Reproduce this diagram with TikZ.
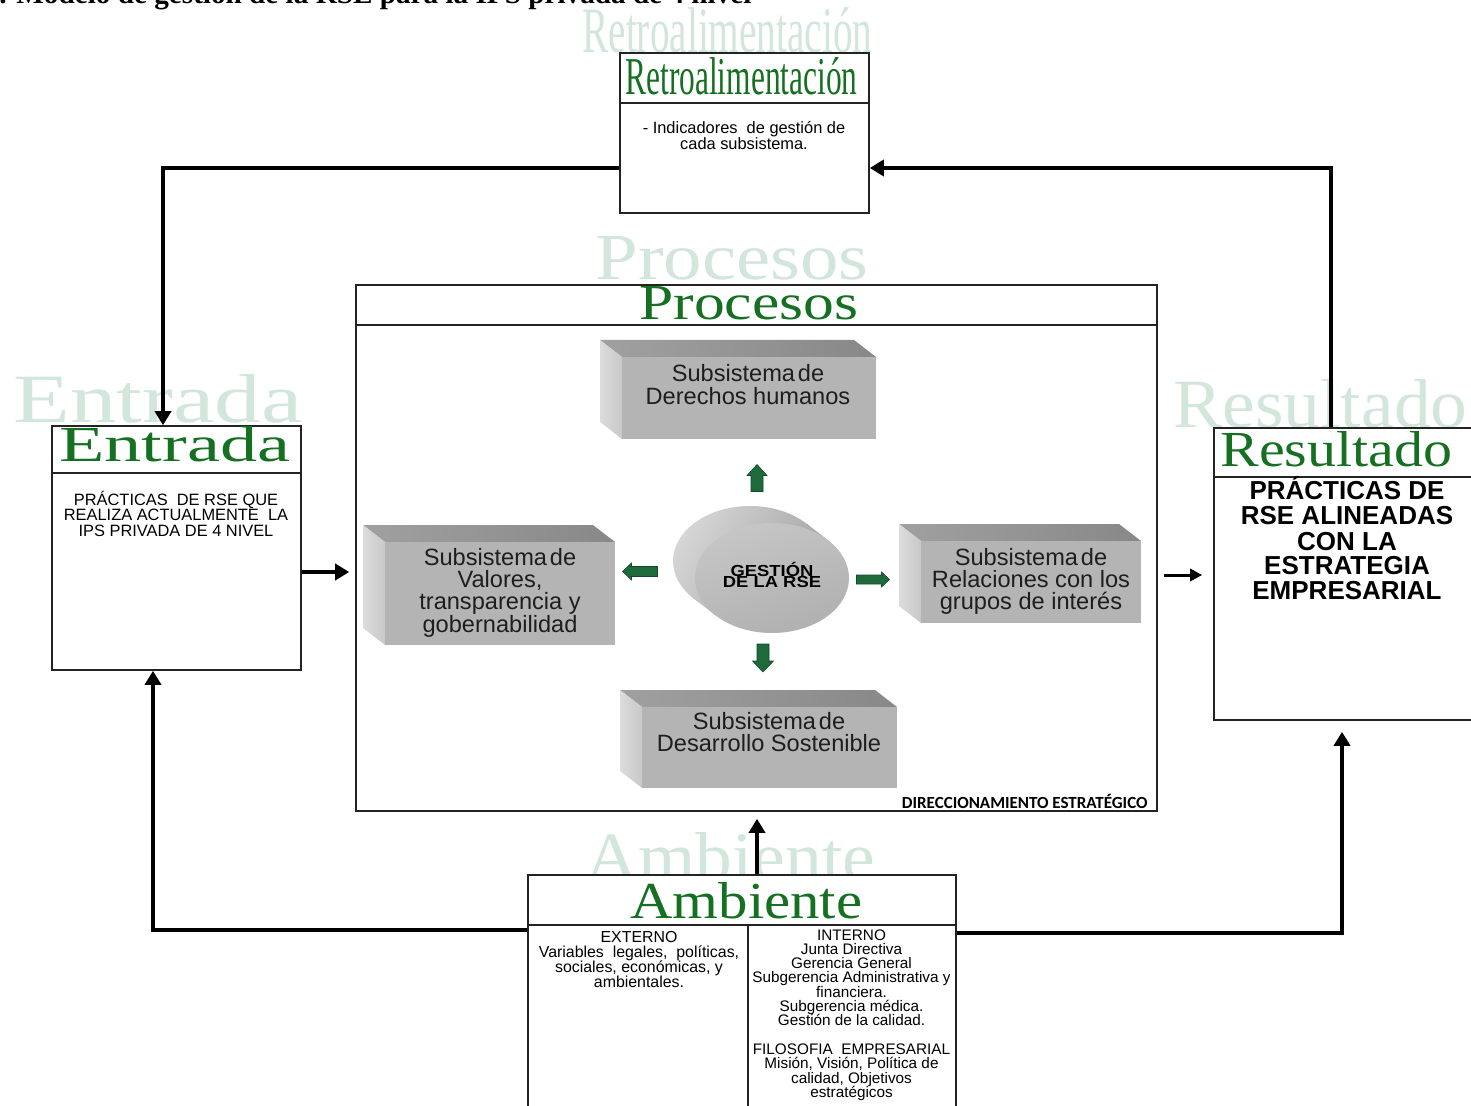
\documentclass[tikz,border=0pt]{standalone}
\usepackage{fontspec}
\setmainfont{Liberation Sans}
\newfontfamily\serifface{Liberation Serif}
\newfontfamily\calibface{Carlito}
\usetikzlibrary{arrows.meta,fit}

\definecolor{ghost}{RGB}{210,230,220}
\definecolor{titlegreen}{RGB}{22,112,34}
\definecolor{arrowgreen}{RGB}{30,106,58}
\definecolor{frontgray}{RGB}{180,180,180}
\definecolor{topL}{RGB}{160,160,160}
\definecolor{topR}{RGB}{136,136,136}
\definecolor{sideL}{RGB}{220,220,220}
\definecolor{sideR}{RGB}{200,200,200}
\definecolor{boxtext}{RGB}{30,30,30}
\definecolor{frameline}{RGB}{35,35,35}
\definecolor{cylLight}{RGB}{216,216,216}
\definecolor{cylDark}{RGB}{150,150,150}

% centred lines, baseline of the node = baseline of the first line
\newcommand{\stack}[1]{\vtop{\lineskiplimit=-20pt\lineskip=0pt\halign{\hfil##\hfil\cr#1\crcr}}}
% heading word scaled to a given width and height (pt)
\newcommand{\headword}[3]{\resizebox{#1pt}{#2pt}{\serifface #3}}
% extruded grey block: front face corners (x1,y1) (x2,y2)
\newcommand{\subbox}[4]{%
  \shade[left color=topL, right color=topR] ({#1-22},{#2-17}) -- ({#3-22},{#2-17}) -- (#3,#2) -- (#1,#2) -- cycle;
  \shade[left color=sideL, right color=sideR] ({#1-22},{#2-17}) -- (#1,#2) -- (#1,#4) -- ({#1-22},{#4-17}) -- cycle;
  \fill[frontgray] (#1,#2) rectangle (#3,#4);}
% green block arrow: centre x, y, angle, length, half head, half shaft, head length
\newcommand{\greenarrow}[7]{%
  \fill[arrowgreen, draw=arrowgreen!70!black, line width=0.3pt, shift={(#1,#2)}, rotate=#3]
    ({-#4/2},{-#6}) -- ({#4/2-#7},{-#6}) -- ({#4/2-#7},{-#5}) -- ({#4/2},0)
    -- ({#4/2-#7},{#5}) -- ({#4/2-#7},{#6}) -- ({-#4/2},{#6}) -- cycle;}

\tikzset{
  frame/.style={draw=frameline, fill=white, line width=0.8pt, inner sep=0pt},
  divider/.style={draw=frameline, line width=0.8pt},
  conn/.style={draw=black, line width=2pt, -{Triangle[length=7pt,width=8pt]}},
  connthin/.style={draw=black, line width=1.5pt, -{Triangle[length=6pt,width=6pt]}},
  ghostword/.style={anchor=base west, inner sep=0pt, text=ghost},
  greenword/.style={anchor=base west, inner sep=0pt, text=titlegreen},
  bodytext/.style={anchor=base, inner sep=0pt, text=black},
  subtext/.style={anchor=base, inner sep=0pt, text=boxtext, font=\fontsize{11.8}{11.2}\selectfont},
}

\begin{document}
\begin{tikzpicture}[x=0.5pt, y=-0.5pt]
\fill[white] (0,0) rectangle (1471,1106);
\useasboundingbox (0,0) rectangle (1471,1106);

% caption line at the top edge
\node[anchor=base west, inner sep=0pt] (caption) at (-1,3.5)
  {\resizebox{376pt}{!}{\serifface\bfseries . Modelo de gestión de la RSE para la IPS privada de 4 nivel}};

% pale heading shadows
\node[ghostword] (retroghost) at (582,53) {\headword{145}{22.5}{Retroalimentación}};
\node[ghostword] (entradaghost) at (13,423) {\headword{144.5}{24}{Entrada}};
\node[ghostword] (procesosghost) at (595,280) {\headword{136.5}{21.5}{Procesos}};
\node[ghostword] (resultadoghost) at (1173,428) {\headword{147}{24}{Resultado}};
\node[ghostword] (ambienteghost) at (585,880) {\headword{145}{24}{Ambiente}};

% frames
\node[frame, fit={(620,53) (869,213)}] (retro) {};
\node[frame, fit={(52,426) (301,670)}] (entrada) {};
\node[frame, fit={(356,285) (1157,811)}] (procesos) {};
\node[frame, fit={(1214,428) (1490,720)}] (resultado) {};
\node[frame, fit={(528,875) (956,1120)}] (ambiente) {};

\draw[divider] (retro.west |- 0,103) -- (retro.east |- 0,103);
\draw[divider] (entrada.west |- 0,473) -- (entrada.east |- 0,473);
\draw[divider] (procesos.west |- 0,325) -- (procesos.east |- 0,325);
\draw[divider] (resultado.west |- 0,477) -- (resultado.east |- 0,477);
\draw[divider] (ambiente.west |- 0,925) -- (ambiente.east |- 0,925);
\draw[divider] (748,925) -- (748,1120);

% green headings
\node[greenword] (retrotitle) at (625,95) {\headword{116}{18.5}{Retroalimentación}};
\node[greenword] (entradatitle) at (59,462) {\headword{115.5}{17.5}{Entrada}};
\node[greenword] (procesostitle) at (639,320) {\headword{109.5}{16.5}{Procesos}};
\node[greenword] (resultadotitle) at (1220,467) {\headword{116}{17.5}{Resultado}};
\node[greenword] (ambientetitle) at (630,918) {\headword{116}{18}{Ambiente}};

% frame contents
\node[bodytext, font=\fontsize{8.2}{8}\selectfont] (retrotext) at (744,134)
  {\stack{- Indicadores\ \ de gestión de\cr cada subsistema.}};
\node[bodytext, font=\fontsize{8.2}{8}\selectfont] (entradatext) at (176,505)
  {\stack{PRÁCTICAS\ \ DE RSE QUE\cr REALIZA ACTUALMENTE\ \ LA\cr IPS PRIVADA DE 4 NIVEL}};
\node[bodytext, font=\bfseries\fontsize{13}{12.5}\selectfont] (resultadotext) at (1347,500)
  {\stack{PRÁCTICAS DE\cr RSE ALINEADAS\cr CON LA\cr ESTRATEGIA\cr EMPRESARIAL}};
\node[bodytext, font=\fontsize{7.95}{7.65}\selectfont] (externo) at (639,942)
  {\stack{EXTERNO\cr Variables\ \ legales,\ \ políticas,\cr sociales, económicas, y\cr ambientales.}};
\node[bodytext, font=\fontsize{7.65}{7.15}\selectfont] (interno) at (851.5,940)
  {\stack{INTERNO\cr Junta Directiva\cr Gerencia General\cr Subgerencia Administrativa y\cr financiera.\cr
   Subgerencia médica.\cr Gestión de la calidad.\cr \cr FILOSOFIA\ \ EMPRESARIAL\cr Misión, Visión, Política de\cr
   calidad, Objetivos\cr estratégicos}};
\node[anchor=base east, inner sep=0pt, font=\calibface\bfseries\fontsize{8.5}{9}\selectfont] (direccion) at (1148,808)
  {DIRECCIONAMIENTO ESTRATÉGICO};

% subsystem blocks
\subbox{622}{357}{876}{439}
\subbox{385}{542}{615}{645}
\subbox{921}{541}{1141}{623}
\subbox{642}{707}{897}{788}
\node[subtext] (derechos) at (748,382) {\stack{Subsistema\hspace{0.12em}de\cr Derechos humanos}};
\node[subtext] (valores) at (500,565) {\stack{Subsistema\hspace{0.12em}de\cr Valores,\cr transparencia y\cr gobernabilidad}};
\node[subtext] (relaciones) at (1031,565) {\stack{Subsistema\hspace{0.12em}de\cr Relaciones con los\cr grupos de interés}};
\node[subtext] (desarrollo) at (769,729) {\stack{Subsistema\hspace{0.12em}de\cr Desarrollo Sostenible}};

% central cylinder: body (back face and sides) under one shading, then the front face
\begin{scope}
  \clip (750,561) ellipse [x radius=77, y radius=55];
  \shade[left color=cylLight, right color=cylDark, shading angle=60] (660,495) rectangle (860,640);
\end{scope}
\begin{scope}
  \clip (828.6,540.7) -- (806.6,523.7) -- (693.4,598.3) -- (715.4,615.3) -- cycle;
  \shade[left color=cylLight, right color=cylDark, shading angle=60] (660,495) rectangle (860,640);
\end{scope}
\shade[top color={rgb,255:red,198;green,198;blue,198}, bottom color={rgb,255:red,176;green,176;blue,176}, shading angle=20]
  (772,578) ellipse [x radius=77, y radius=55];
\node[anchor=base, inner sep=0pt, text=black, font=\bfseries\fontsize{8}{5.6}\selectfont] (gestion) at (772,576.5)
  {\scalebox{1.15}[1]{\stack{GESTIÓN\cr DE LA RSE}}};

% green arrows around the centre
\greenarrow{757}{478}{90}{27}{10}{6}{11}
\greenarrow{763}{658}{-90}{28}{10.5}{6}{11}
\greenarrow{640}{571.5}{180}{35}{8.5}{5}{9}
\greenarrow{873}{579.5}{0}{33}{7.5}{4.5}{8}

% connectors
\draw[conn] (retro.west |- 0,168) -| (163,0 |- entrada.north);
\draw[conn] (1331,0 |- resultado.north) |- (retro.east |- 0,168);
\draw[conn, shorten >=3pt] (entrada.east |- 0,572) -- (procesos.west |- 0,572);
\draw[connthin, shorten <=3pt, shorten >=5.5pt] (procesos.east |- 0,575) -- (resultado.west |- 0,575);
\draw[conn] (ambiente.west |- 0,930) -| (153,0 |- entrada.south);
\draw[conn, shorten >=5.5pt] (ambiente.east |- 0,933) -| (1342,0 |- resultado.south);
\draw[conn, shorten >=3.5pt] (757,0 |- ambiente.north) -- (757,0 |- procesos.south);
\end{tikzpicture}
\end{document}
